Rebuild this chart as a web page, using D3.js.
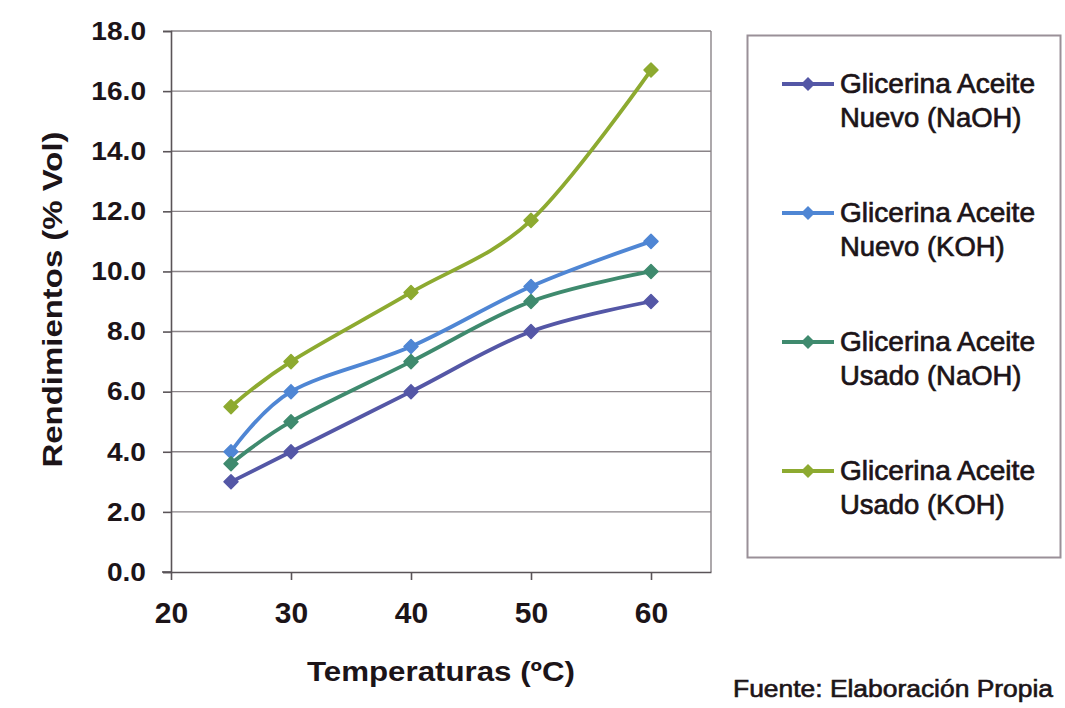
<!DOCTYPE html>
<html>
<head>
<meta charset="utf-8">
<script src="https://cdn.jsdelivr.net/npm/d3@7"></script>
<style>
  html, body { margin: 0; padding: 0; background: #ffffff; }
  svg { display: block; }
  text { font-family: "Liberation Sans", Arial, sans-serif; fill: #1c1418; }
</style>
</head>
<body>
<svg id="chart" width="1065" height="708"></svg>
<script>
// ---- data ----
const temperatures = [25, 30, 40, 50, 60];
const nuevoNaOH = [3.0, 4.0, 6.0, 8.0, 9.0];
const nuevoKOH  = [4.0, 6.0, 7.5, 9.5, 11.0];
const usadoNaOH = [3.6, 5.0, 7.0, 9.0, 10.0];
const usadoKOH  = [5.5, 7.0, 9.3, 11.7, 16.7];
const seriesNames = [
  ["Glicerina Aceite", "Nuevo (NaOH)"],
  ["Glicerina Aceite", "Nuevo (KOH)"],
  ["Glicerina Aceite", "Usado (NaOH)"],
  ["Glicerina Aceite", "Usado (KOH)"]
];
const xTicks = [20, 30, 40, 50, 60];
const yTicks = [0, 2, 4, 6, 8, 10, 12, 14, 16, 18];
const xTitle = "Temperaturas (ºC)";
const yTitle = "Rendimientos (% Vol)";
const source = "Fuente: Elaboración Propia";

const colors = ["#5457a6", "#4f86d4", "#3f8a6e", "#8daa30"];
const seriesValues = [nuevoNaOH, nuevoKOH, usadoNaOH, usadoKOH];

// ---- layout ----
const svg = d3.select("#chart");
const x = d3.scaleLinear().domain([20, 65]).range([171, 711]);
const y = d3.scaleLinear().domain([0, 18]).range([572, 31]);

function fitWidth(sel, w) {
  sel.attr("textLength", w).attr("lengthAdjust", "spacingAndGlyphs");
}

// gridlines
svg.append("g")
  .selectAll("line")
  .data(yTicks.filter(d => d > 0))
  .join("line")
  .attr("x1", x(20)).attr("x2", x(65))
  .attr("y1", d => y(d)).attr("y2", d => y(d))
  .attr("stroke", "#8a8488").attr("stroke-width", 1.4);

// right border of plot area
svg.append("line")
  .attr("x1", x(65)).attr("x2", x(65))
  .attr("y1", y(18)).attr("y2", y(0))
  .attr("stroke", "#8a8488").attr("stroke-width", 1.4);

// axes
const yAxis = svg.append("g")
  .attr("transform", `translate(${x(20)},0)`)
  .call(d3.axisLeft(y).tickValues(yTicks).tickSize(8).tickPadding(17).tickFormat(d3.format(".1f")));
const xAxis = svg.append("g")
  .attr("transform", `translate(0,${y(0)})`)
  .call(d3.axisBottom(x).tickValues(xTicks).tickSize(8).tickSizeOuter(0).tickPadding(22));

[yAxis, xAxis].forEach(g => {
  g.select(".domain").attr("stroke", "#5a5458").attr("stroke-width", 1.6);
  g.selectAll(".tick line").attr("stroke", "#5a5458").attr("stroke-width", 1.6);
});
svg.append("line")
  .attr("x1", x(20) - 9).attr("x2", x(20))
  .attr("y1", y(0)).attr("y2", y(0))
  .attr("stroke", "#5a5458").attr("stroke-width", 1.6);

yAxis.selectAll(".tick text")
  .attr("fill", "#1c1418")
  .style("font-size", "26px").style("font-weight", "bold")
  .style("font-family", "'Liberation Sans', Arial, sans-serif")
  .each(function(){ fitWidth(d3.select(this), this.getComputedTextLength() * 1.08); });
xAxis.selectAll(".tick text")
  .attr("fill", "#1c1418")
  .style("font-size", "30px").style("font-weight", "bold")
  .style("font-family", "'Liberation Sans', Arial, sans-serif");

// axis titles
const xt = svg.append("text")
  .attr("x", 441).attr("y", 681)
  .attr("text-anchor", "middle")
  .style("font-size", "28px").style("font-weight", "bold")
  .text(xTitle);
fitWidth(xt, 268);

const yt = svg.append("text")
  .attr("transform", `translate(62,${(y(0) + y(18)) / 2 - 2}) rotate(-90)`)
  .attr("text-anchor", "middle")
  .style("font-size", "28px").style("font-weight", "bold")
  .text(yTitle);
fitWidth(yt, 336);

// lines
const line = d3.line()
  .x((d, i) => x(temperatures[i]))
  .y(d => y(d))
  .curve(d3.curveCardinal.tension(0));

const diamond = d3.symbol().type(d3.symbolDiamond2).size(125);

seriesValues.forEach((vals, si) => {
  svg.append("path")
    .attr("d", line(vals))
    .attr("fill", "none")
    .attr("stroke", colors[si])
    .attr("stroke-width", 3.8)
    .attr("stroke-linejoin", "round");
  svg.append("g")
    .selectAll("path")
    .data(vals)
    .join("path")
    .attr("transform", (d, i) => `translate(${x(temperatures[i])},${y(d)})`)
    .attr("d", diamond)
    .attr("fill", colors[si])
    .attr("stroke", colors[si]).attr("stroke-width", 1.5).attr("stroke-linejoin", "round");
});

// legend
svg.append("rect")
  .attr("x", 747.5).attr("y", 35.5)
  .attr("width", 313).attr("height", 522)
  .attr("fill", "none")
  .attr("stroke", "#9a9098").attr("stroke-width", 2);

const legendY = [84, 213, 342, 471];
seriesNames.forEach((lines, i) => {
  const g = svg.append("g").attr("transform", `translate(0,${legendY[i]})`);
  g.append("line").attr("x1", 782).attr("x2", 834).attr("y1", 0).attr("y2", 0)
    .attr("stroke", colors[i]).attr("stroke-width", 3.8);
  g.append("path").attr("transform", "translate(808,0)").attr("d", diamond).attr("fill", colors[i]);
  const t1 = g.append("text").attr("x", 840).attr("y", 9)
    .style("font-size", "28px").style("stroke", "#1c1418").style("stroke-width", "0.7px")
    .text(lines[0]);
  fitWidth(t1, 195);
  const t2 = g.append("text").attr("x", 840).attr("y", 43)
    .style("font-size", "28px").style("stroke", "#1c1418").style("stroke-width", "0.7px")
    .text(lines[1]);
  fitWidth(t2, t2.node().getComputedTextLength() * 0.98);
});

// source note
const src = svg.append("text")
  .attr("x", 733).attr("y", 697)
  .style("font-size", "23px").style("stroke", "#1c1418").style("stroke-width", "0.6px")
  .text(source);
fitWidth(src, 320);
</script>
</body>
</html>
